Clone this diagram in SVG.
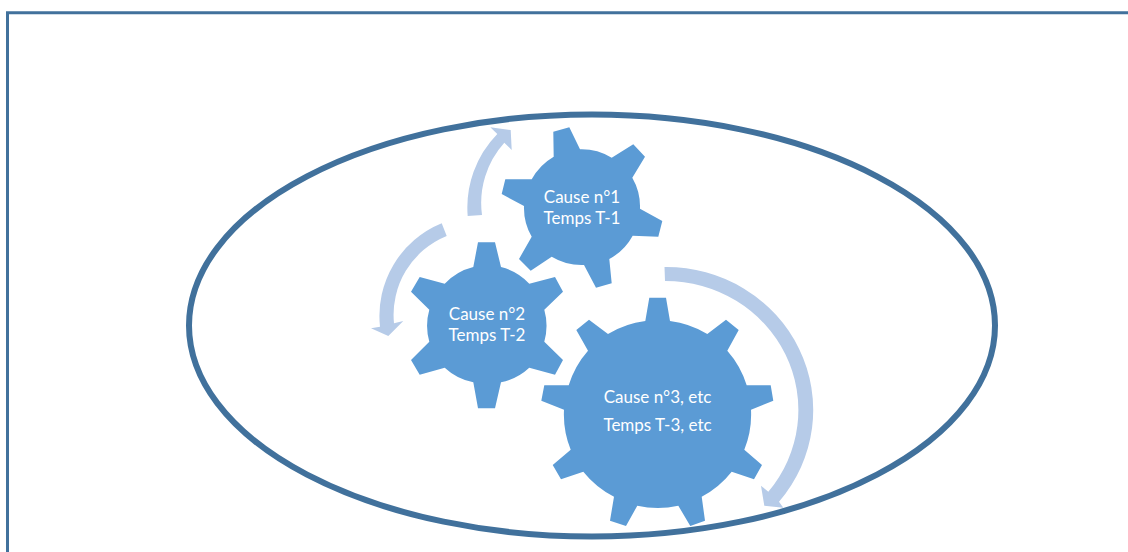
<svg xmlns="http://www.w3.org/2000/svg" width="1128" height="552" viewBox="0 0 1128 552">
<style>
.gear{fill:#5b9bd5}
.arrow{fill:#b6cbe8}
.label{fill:#fff;font-family:"Lato","Liberation Sans",sans-serif;font-size:17px;text-anchor:middle}
.line{fill:none;stroke:#41719c}
</style>
<rect width="1128" height="552" fill="#fff"/>
<path id="frame" class="line" stroke-width="3" d="M1128,12.8H7.5V552"/>
<g id="connectors">
<path class="arrow" d="M467.7,216A105,105 0 0 1 497.3,134L490.3,127.3L510.7,130L511.7,150L504.3,142.7A90,90 0 0 0 482,215Z"/>
<path class="arrow" d="M441.7,223.3A100,100 0 0 0 380,326.7L371,328.3L388.3,336L403.3,321L394,323.3A85,85 0 0 1 446.7,236Z"/>
<path class="arrow" d="M664.5,267A147,143 0 0 1 779,501.7L783.3,507.7L764.3,505.7L761,485.7L768.3,491.7A133,129 0 0 0 665,281Z"/>
</g>
<g id="gear1">
<path class="gear" d="M553.3,131.7L569.3,127.3L580,149.3A58,58 0 0 1 611.7,157.7L633.3,144.3L645,156.7L632.3,177.7A58,58 0 0 1 640,208.7L662.3,221L658.3,236.7L632.7,235.7A58,58 0 0 1 609.3,259L611.7,283.3L596,287.7L584,265A58,58 0 0 1 551.7,256.7L530.7,270.7L519,259L531.7,236.7A58,58 0 0 1 524,206L501.7,194L505.3,179.3L531.7,179.3A58,58 0 0 1 553.7,156.7Z"/>
<text class="label" x="582" y="203">Cause n°1</text>
<text class="label" x="582" y="224">Temps T-1</text>
</g>
<g id="gear2">
<path class="gear" d="M478,242.3H495L501,267A59,59 0 0 1 529.3,283.7L555,277L563,291.7L544.3,309.7A59,59 0 0 1 544.3,341.7L563,360L555,374.7L529.3,367.7A59,59 0 0 1 501,382.3L495,408.3H478L473.3,382.3A59,59 0 0 1 444.7,367.7L419.7,374.7L411,360L429.3,341.7A59,59 0 0 1 429.3,309.7L411,291.7L419.7,277L444.7,283.7A59,59 0 0 1 473.3,267Z"/>
<text class="label" x="487" y="320">Cause n°2</text>
<text class="label" x="487" y="341">Temps T-2</text>
</g>
<g id="gear3">
<path class="gear" d="M649.3,297.7H666L670,321A94,94 0 0 1 707.3,334L726,319.7L738.7,330L727.3,350.7A94,94 0 0 1 746.7,385.3H770.7L773.3,400.7L751,409.7A94,94 0 0 1 744.3,449.7L762,465L754,479.3L731.7,471.7A94,94 0 0 1 701.7,496.7L705,520.7L690.3,526L678.3,505.7A94,94 0 0 1 637.3,505.7L626,526L610,520.7L614,496.7A94,94 0 0 1 583.3,471.7L561,479.3L552.7,465L570.7,449.7A94,94 0 0 1 564,409.7L541.3,400.7L544.3,385.3H568.7A94,94 0 0 1 588,350.7L576.3,330L589,319.7L608,334A94,94 0 0 1 645.3,321Z"/>
<text class="label" x="657.500" y="403">Cause n°3, etc</text>
<text class="label" x="657.500" y="431">Temps T-3, etc</text>
</g>
<ellipse id="boundary" class="line" stroke-width="6" cx="592" cy="325.500" rx="403" ry="211"/>
</svg>
